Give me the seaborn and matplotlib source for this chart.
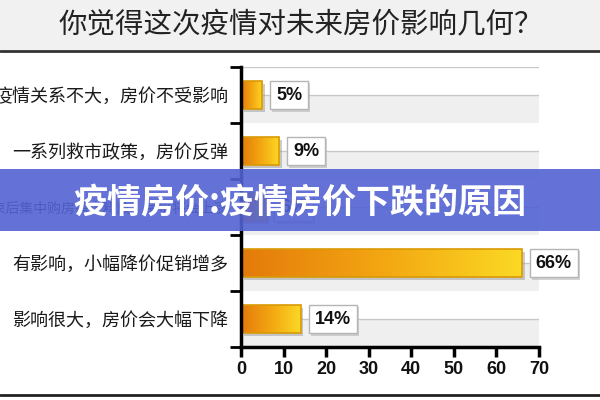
import numpy as np
import pandas as pd
import matplotlib
matplotlib.use("Agg")
import matplotlib.pyplot as plt
import matplotlib.patheffects as pe
from matplotlib.patches import Rectangle
from matplotlib.lines import Line2D
from matplotlib.colors import LinearSegmentedColormap
import seaborn as sns

# ---- data ----
title = "你觉得这次疫情对未来房价影响几何？"
categories = ["疫情关系不大，房价不受影响",
              "一系列救市政策，房价反弹",
              "疫情结束后集中购房需求释放，房价将会上涨",
              "有影响，小幅降价促销增多",
              "影响很大，房价会大幅下降"]
values = [5, 9, 6, 66, 14]
xticks = [0, 10, 20, 30, 40, 50, 60, 70]
banner_text = "疫情房价:疫情房价下跌的原因"

sns.set_theme(style="white")
plt.rcParams['font.family'] = ['Noto Sans CJK SC', 'DejaVu Sans']

W, H = 600, 400
fig = plt.figure(figsize=(6, 4), dpi=100)
fig.patch.set_facecolor('white')

# header band and frame lines
fig.add_artist(Rectangle((0, 1 - 50 / H), 1, 50 / H, transform=fig.transFigure,
                         fc='#f1f1f1', ec='none', zorder=-1))
fig.add_artist(Line2D([0, 1], [1 - 51 / H] * 2, transform=fig.transFigure,
                      color='#333333', lw=2, zorder=-1))
fig.add_artist(Line2D([0, 1], [1 - 395 / H] * 2, transform=fig.transFigure,
                      color='#222222', lw=2, zorder=-1))
fig.text(0.502, 1 - 25 / H, title, fontsize=20.5, color='#222222',
         ha='center', va='center')

ax = fig.add_axes([241 / W, 1 - 347 / H, 298 / W, 280 / H])
df = pd.DataFrame({'cat': categories, 'val': values})
sns.barplot(data=df, x='val', y='cat', orient='h', width=0.5, ax=ax,
            color='#f0a010', linewidth=0, zorder=3)
bars = [p for p in ax.patches if isinstance(p, Rectangle) and p.get_width() > 0]

n = len(categories)
# row bands: lower half of each row light gray, gridline at row centre
for i in range(n):
    ax.axhspan(i, i + 0.5, color='#efefef', zorder=0, lw=0)
    ax.axhline(i, color='#c8c8c8', lw=1, zorder=1)
ax.axhline(-0.5, color='#c8c8c8', lw=1, zorder=1)

cmap = LinearSegmentedColormap.from_list('og', ['#e47a0b', '#f3a612', '#fbd924'])
grad = np.linspace(0, 1, 256).reshape(1, -1)
for p in bars:
    x0, y0, w, h = p.get_x(), p.get_y(), p.get_width(), p.get_height()
    p.set_path_effects([pe.SimplePatchShadow(offset=(2, -2), shadow_rgbFace='#9a9a9a', alpha=0.5),
                        pe.Normal()])
    im = ax.imshow(grad, extent=[x0, x0 + w, y0 + h, y0], aspect='auto',
                   cmap=cmap, zorder=3.5, interpolation='bilinear')
    im.set_clip_path(p)
    ax.add_patch(Rectangle((x0, y0), w, h, fc='none', ec='#d99a05', lw=1.2, zorder=4))

ax.set_xlim(0, 70)
ax.set_ylim(n - 0.5, -0.5)
ax.set_aspect('auto')

for i, v in enumerate(values):
    t = ax.annotate(f"{v}%", xy=(v, i), xytext=(10, 0), textcoords='offset points',
                    ha='left', va='center', fontsize=13, fontweight='bold',
                    family='Liberation Sans', color='#111111', zorder=6,
                    annotation_clip=False,
                    bbox=dict(boxstyle='square,pad=0.33', fc='white', ec='#b5b5b5', lw=1))
    t.get_bbox_patch().set_path_effects(
        [pe.SimplePatchShadow(offset=(1.5, -1.5), shadow_rgbFace='#aaaaaa', alpha=0.5), pe.Normal()])

for s in ['top', 'right']:
    ax.spines[s].set_visible(False)
for s in ['left', 'bottom']:
    ax.spines[s].set_color('black')
    ax.spines[s].set_linewidth(2.5)
ax.spines['left'].set_zorder(5)

ax.set_yticks(range(n))
ax.set_yticklabels(categories)
ax.set_yticks(np.arange(-0.5, n, 1), minor=True)
ax.tick_params(axis='y', which='major', length=0, pad=9, labelsize=13, labelcolor='#1a1a1a')
ax.tick_params(axis='y', which='minor', length=8, width=2, color='black', direction='out', left=True)
ax.get_yticklabels()[2].set_fontsize(10)

ax.set_xticks(xticks)
ax.tick_params(axis='x', length=7, width=2.5, color='black', direction='out', bottom=True,
               labelsize=13, pad=3, labelcolor='#111111')
for lbl in ax.get_xticklabels():
    lbl.set_fontweight('bold')
    lbl.set_family('Liberation Sans')
ax.set_xlabel('')
ax.set_ylabel('')
ax.grid(False)

# banner overlay
fig.add_artist(Rectangle((0, 1 - 231 / H), 1, 62 / H, transform=fig.transFigure,
                         fc='#5363d3', ec='none', alpha=0.9, zorder=10))
fig.text(0.5, 1 - 203 / H, banner_text, color='white', fontsize=24.5,
         fontweight='bold', ha='center', va='center', zorder=11)

fig.savefig('out.png', dpi=100)
